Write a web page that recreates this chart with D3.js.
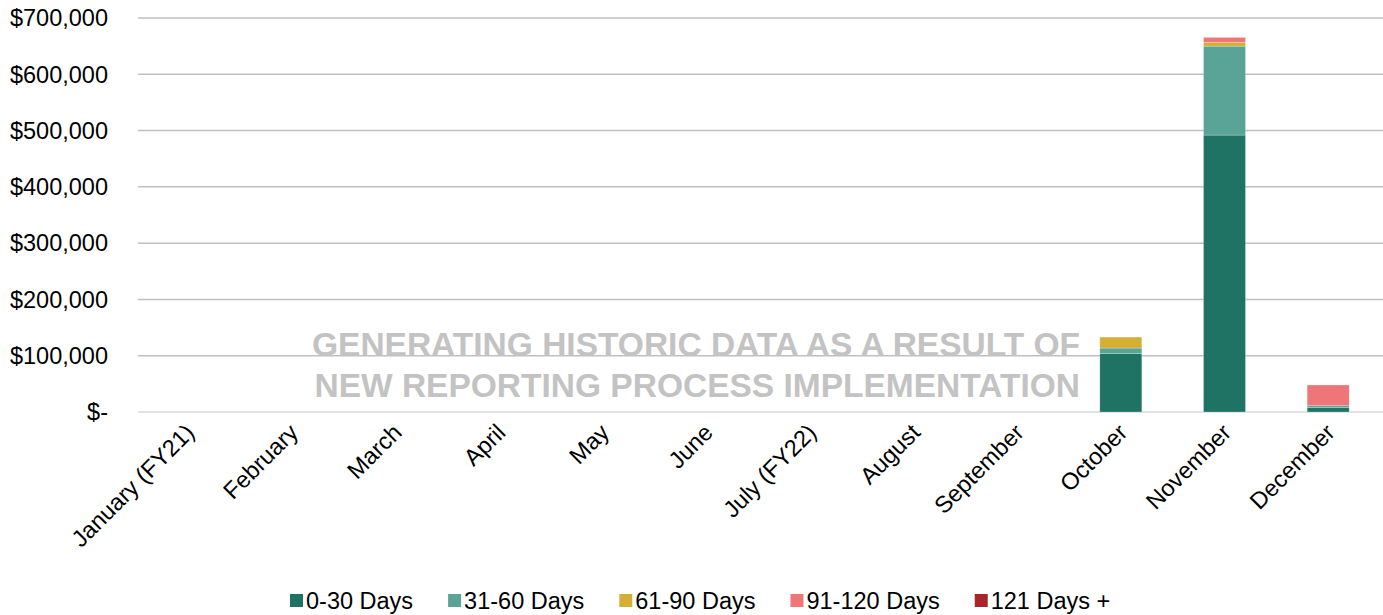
<!DOCTYPE html>
<html>
<head>
<meta charset="utf-8">
<script src="https://cdn.jsdelivr.net/npm/d3@7.9.0/dist/d3.min.js"></script>
<style>
  body { margin: 0; background: #fff; }
  text { font-family: "Liberation Sans", Arial, sans-serif; }
</style>
</head>
<body>
<svg id="chart" width="1383" height="615"></svg>
<script>
// data
const months = ['January (FY21)', 'February', 'March', 'April', 'May', 'June',
  'July (FY22)', 'August', 'September', 'October', 'November', 'December'];
const days0_30   = [0, 0, 0, 0, 0, 0, 0, 0, 0, 103600, 492000, 7600];
const days31_60  = [0, 0, 0, 0, 0, 0, 0, 0, 0, 10000, 158000, 3600];
const days61_90  = [0, 0, 0, 0, 0, 0, 0, 0, 0, 19500, 7000, 0];
const days91_120 = [0, 0, 0, 0, 0, 0, 0, 0, 0, 0, 8500, 36800];
const days121    = [0, 0, 0, 0, 0, 0, 0, 0, 0, 0, 0, 0];
const seriesNames = ['0-30 Days', '31-60 Days', '61-90 Days', '91-120 Days', '121 Days +'];
const yTicks = [0, 100000, 200000, 300000, 400000, 500000, 600000, 700000];

const colors = ['#1e7365', '#59a497', '#d5ae36', '#ee7578', '#a8262b'];
const allSeries = [days0_30, days31_60, days61_90, days91_120, days121];

let rows = months.map((m, i) => {
  let r = { month: m };
  seriesNames.forEach((s, k) => { r[s] = allSeries[k][i]; });
  return r;
});

let svg = d3.select('#chart');
let margin = { left: 138, right: 0, top: 18, bottom: 203 };
let width = 1383 - margin.left - margin.right;
let height = 615 - margin.top - margin.bottom;

let x = d3.scaleBand().domain(months).range([-2, width - 3]).paddingInner(0.595).paddingOuter(0.2975);
let y = d3.scaleLinear().domain([0, 700000]).range([height, 0]);

let g = svg.append('g').attr('transform', `translate(${margin.left},${margin.top})`);

// gridlines
g.selectAll('line.grid')
  .data(yTicks)
  .join('line')
  .attr('x1', 0).attr('x2', width)
  .attr('y1', d => y(d)).attr('y2', d => y(d))
  .attr('stroke', d => d === 0 ? '#d9d9d9' : '#c0c0c0')
  .attr('stroke-width', 1.5);

// y labels
g.selectAll('text.ylab')
  .data(yTicks)
  .join('text')
  .attr('x', -30)
  .attr('y', d => y(d))
  .attr('dy', '0.35em')
  .attr('text-anchor', 'end')
  .attr('font-size', 23.5)
  .attr('fill', '#000')
  .text(d => d === 0 ? '$-' : '$' + d3.format(',')(d));

// watermark
let wm = g.append('text')
  .attr('text-anchor', 'end')
  .attr('font-size', 33.5)
  .attr('font-weight', 'bold')
  .attr('fill', '#c3c3c3');
wm.append('tspan').attr('x', 1080 - margin.left).attr('y', 356 - margin.top).text('GENERATING HISTORIC DATA AS A RESULT OF');
wm.append('tspan').attr('x', 1080 - margin.left).attr('y', 397 - margin.top).text('NEW REPORTING PROCESS IMPLEMENTATION');

// stacked bars
let stack = d3.stack().keys(seriesNames);
let layers = stack(rows);

g.selectAll('g.layer')
  .data(layers)
  .join('g')
  .attr('fill', (d, i) => colors[i])
  .selectAll('rect')
  .data(d => d.filter(p => p[1] - p[0] > 0))
  .join('rect')
  .attr('x', d => x(d.data.month))
  .attr('width', x.bandwidth())
  .attr('y', d => y(d[1]))
  .attr('height', d => y(d[0]) - y(d[1]))
  .attr('stroke', '#fff')
  .attr('stroke-opacity', 0.4)
  .attr('stroke-width', 0.6);

// x labels rotated
g.selectAll('text.xlab')
  .data(months)
  .join('text')
  .attr('text-anchor', 'end')
  .attr('font-size', 23.5)
  .attr('fill', '#000')
  .attr('transform', d => `translate(${x(d) + x.bandwidth() / 2 + 8},${height + 22}) rotate(-45)`)
  .text(d => d);

// legend
let legendItems = [];
let lx = 290;
let lg = svg.append('g').attr('transform', 'translate(0,601)');
seriesNames.forEach((s, i) => {
  let item = lg.append('g');
  item.append('rect')
    .attr('x', 0).attr('y', -7).attr('width', 13).attr('height', 13)
    .attr('fill', colors[i]);
  let t = item.append('text')
    .attr('x', 16).attr('y', 0).attr('dy', '0.35em')
    .attr('font-size', 23.5).attr('fill', '#000')
    .text(s);
  legendItems.push({ item, w: 16 + t.node().getComputedTextLength() });
});
let gap = 35;
legendItems.forEach(({ item, w }) => {
  item.attr('transform', `translate(${lx},0)`);
  lx += w + gap;
});
</script>
</body>
</html>
